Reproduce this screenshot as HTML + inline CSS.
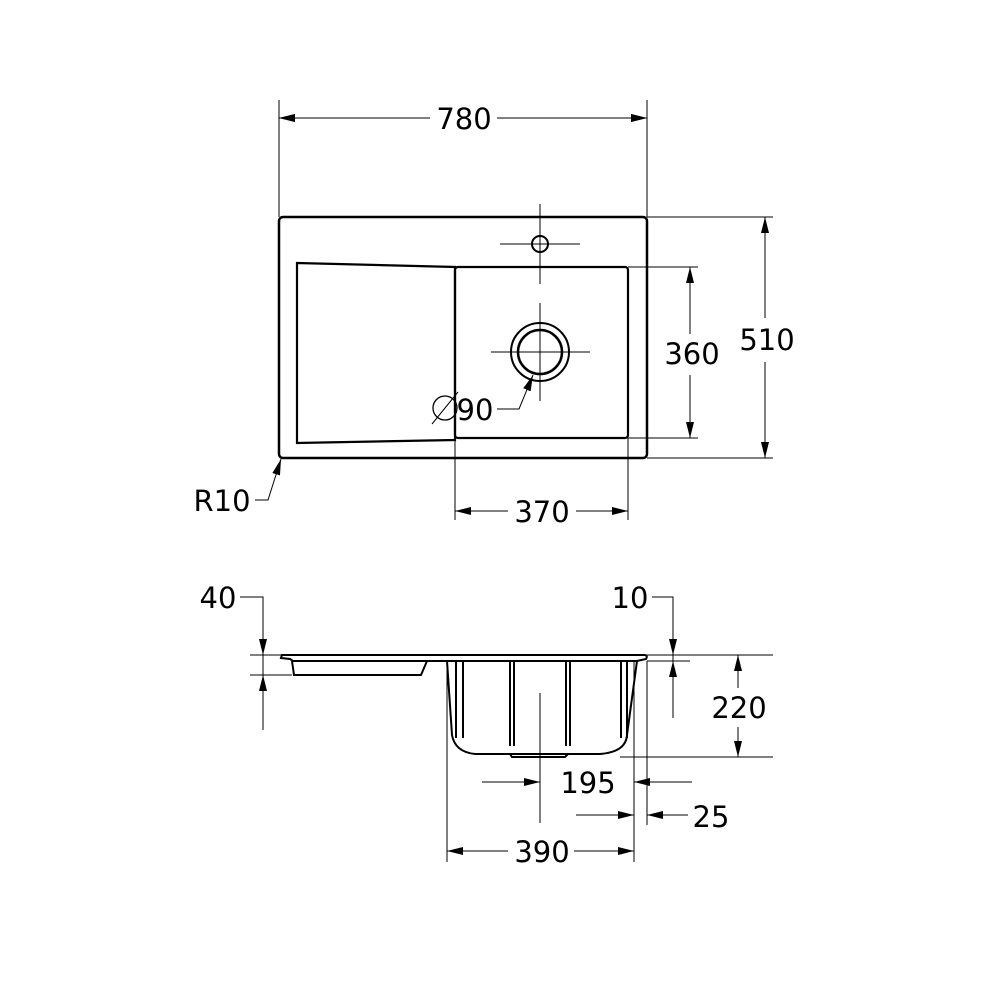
<!DOCTYPE html>
<html><head><meta charset="utf-8"><style>html,body{margin:0;padding:0;background:#fff}svg{display:block}</style></head>
<body>
<svg width="992" height="992" viewBox="0 0 992 992" xmlns="http://www.w3.org/2000/svg">
<defs>
<marker id="a" viewBox="0 0 16 8" refX="16" refY="4" markerWidth="16" markerHeight="8" markerUnits="userSpaceOnUse" orient="auto-start-reverse"><path d="M0,0 L16,4 L0,8 z" fill="#000"/></marker>
</defs>
<g font-family="DejaVu Sans, sans-serif" font-size="29" fill="#000" text-anchor="middle">
<!-- TOP VIEW -->
<g fill="none" stroke="#000">
<rect x="279" y="217" width="368" height="241" rx="4" stroke-width="2.5"/>
<path d="M297,263 L455,267 L455,440 L297,443 Z" stroke-width="2.2"/>
<rect x="455" y="267" width="173" height="171" rx="3" stroke-width="2.2"/>
<circle cx="540" cy="244" r="8" stroke-width="2"/>
<circle cx="540" cy="352" r="29" stroke-width="2"/>
<circle cx="540" cy="352" r="22" stroke-width="2.5"/>
<g stroke-width="1">
<path d="M540,204 V284 M500,244 H580 M540,303 V401 M491,352 H590"/>
<path d="M279,100 V217 M647,100 V217"/>
<path d="M647,217 H773 M647,458 H773 M628,267 H698 M628,438 H698"/>
<path d="M455,438 V520 M628,438 V520"/>
<path d="M279,118 H430 M497,118 H647" marker-start="url(#a)" marker-end="url(#a)"/>
</g>
<g stroke-width="1">
<line x1="279" y1="118" x2="430" y2="118" marker-start="url(#a)"/>
<line x1="497" y1="118" x2="647" y2="118" marker-end="url(#a)"/>
<line x1="765" y1="217" x2="765" y2="318" marker-start="url(#a)"/>
<line x1="765" y1="362" x2="765" y2="458" marker-end="url(#a)"/>
<line x1="690" y1="267" x2="690" y2="334" marker-start="url(#a)"/>
<line x1="690" y1="375" x2="690" y2="438" marker-end="url(#a)"/>
<line x1="455" y1="511" x2="508" y2="511" marker-start="url(#a)"/>
<line x1="576" y1="511" x2="628" y2="511" marker-end="url(#a)"/>
<polyline points="497,409 519,409 533,375" marker-end="url(#a)"/>
<polyline points="255,500 268,500 281,459" marker-end="url(#a)"/>
<line x1="432" y1="424" x2="458" y2="392"/>
</g>
<circle cx="445" cy="408" r="12" stroke-width="1.3"/>
</g>
<text x="464" y="129">780</text>
<text x="767" y="350">510</text>
<text x="692" y="364">360</text>
<text x="542" y="522">370</text>
<text x="475" y="420">90</text>
<text x="222" y="511">R10</text>
<!-- SIDE VIEW -->
<g fill="none" stroke="#000" stroke-width="2">
<path d="M282,655 H645 Q648,656 646,659 L637,661 H293 L290,659 L281,658 Z"/>
<path d="M292,661 L294,675 H421 L427,661"/>
<path d="M447,661 L452,735 Q455,752 475,754 L600,754 Q626,752 627,735 L637,661"/>
<path d="M510,754 L512,757 H565 L568,754"/>
<path d="M456,662 V738 M463,662 V738 M510,662 V746 M514,662 V746 M566,662 V746 M570,662 V746 M621,662 V738 M627,662 V738"/>
</g>
<g fill="none" stroke="#000" stroke-width="1">
<path d="M540,693 V823"/>
<path d="M240,597 H263 V730 M250,655 H282 M250,675 H292"/>
<path d="M652,597 H673 V718 M647,655 H773 M647,661 H690"/>
<path d="M620,757 H773"/>
<path d="M447,661 V862 M634,661 V862 M647,661 V825"/>
<line x1="263" y1="620" x2="263" y2="655" marker-end="url(#a)"/>
<line x1="263" y1="695" x2="263" y2="675" marker-end="url(#a)"/>
<line x1="673" y1="620" x2="673" y2="655" marker-end="url(#a)"/>
<line x1="673" y1="690" x2="673" y2="661" marker-end="url(#a)"/>
<line x1="738" y1="655" x2="738" y2="688" marker-start="url(#a)"/>
<line x1="738" y1="727" x2="738" y2="757" marker-end="url(#a)"/>
<line x1="482" y1="782" x2="540" y2="782" marker-end="url(#a)"/>
<line x1="692" y1="782" x2="634" y2="782" marker-end="url(#a)"/>
<line x1="576" y1="815" x2="634" y2="815" marker-end="url(#a)"/>
<line x1="688" y1="815" x2="647" y2="815" marker-end="url(#a)"/>
<line x1="447" y1="851" x2="508" y2="851" marker-start="url(#a)"/>
<line x1="574" y1="851" x2="634" y2="851" marker-end="url(#a)"/>
</g>
<text x="218" y="608">40</text>
<text x="630" y="608">10</text>
<text x="739" y="718">220</text>
<text x="588" y="793">195</text>
<text x="711" y="827">25</text>
<text x="542" y="862">390</text>
</g>
</svg>
</body></html>
